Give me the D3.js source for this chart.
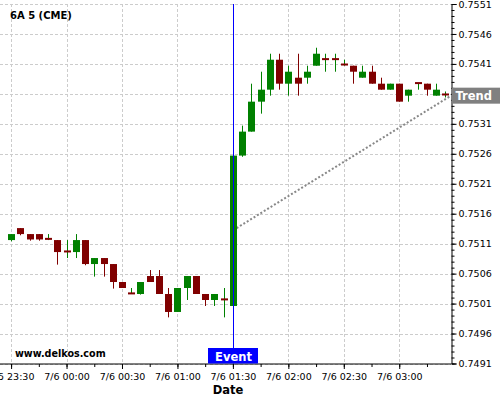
<html>
<head>
<title>6A 5 (CME) - Event</title>
<script src="https://cdn.jsdelivr.net/npm/d3@7"></script>
<style>
    body { margin: 0; background: #ffffff; }
    svg text { font-family: "DejaVu Sans", sans-serif; }
    .grid line { stroke: #cccccc; stroke-dasharray: 3,2; }
    .axis path, .axis line { stroke: #000000; }
    .axis text { font-size: 9.5px; fill: #000; }
</style>
</head>
<body>
<div id="chart"></div>
<script type="text/javascript">

// 5 minute candles
var times = ["7/5 23:30", "7/5 23:35", "7/5 23:40", "7/5 23:45", "7/5 23:50", "7/5 23:55",
             "7/6 00:00", "7/6 00:05", "7/6 00:10", "7/6 00:15", "7/6 00:20", "7/6 00:25",
             "7/6 00:30", "7/6 00:35", "7/6 00:40", "7/6 00:45", "7/6 00:50", "7/6 00:55",
             "7/6 01:00", "7/6 01:05", "7/6 01:10", "7/6 01:15", "7/6 01:20", "7/6 01:25",
             "7/6 01:30", "7/6 01:35", "7/6 01:40", "7/6 01:45", "7/6 01:50", "7/6 01:55",
             "7/6 02:00", "7/6 02:05", "7/6 02:10", "7/6 02:15", "7/6 02:20", "7/6 02:25",
             "7/6 02:30", "7/6 02:35", "7/6 02:40", "7/6 02:45", "7/6 02:50", "7/6 02:55",
             "7/6 03:00", "7/6 03:05", "7/6 03:10", "7/6 03:15", "7/6 03:20", "7/6 03:25"];

var opens  = [0.75116, 0.75136, 0.75126, 0.75126, 0.75118, 0.75116, 0.75097, 0.75096, 0.75116, 0.75076, 0.75086, 0.75076,
              0.75046, 0.75027, 0.75026, 0.75056, 0.75056, 0.75026, 0.74996, 0.75036, 0.75056, 0.75026, 0.75016, 0.75017,
              0.75006, 0.75257, 0.75297, 0.75347, 0.75367, 0.75417, 0.75377, 0.75387, 0.75387, 0.75407, 0.75418, 0.75418,
              0.75409, 0.75407, 0.75387, 0.75397, 0.75377, 0.75367, 0.75377, 0.75357, 0.75378, 0.75377, 0.75357, 0.75359];
var highs  = [0.75126, 0.75136, 0.75126, 0.75126, 0.75126, 0.75116, 0.75116, 0.75126, 0.75116, 0.75086, 0.75086, 0.75076,
              0.75046, 0.75036, 0.75046, 0.75066, 0.75066, 0.75036, 0.75036, 0.75056, 0.75056, 0.75026, 0.75026, 0.75036,
              0.75257, 0.75307, 0.75377, 0.75397, 0.75427, 0.75427, 0.75407, 0.75427, 0.75407, 0.75437, 0.75427, 0.75427,
              0.75417, 0.75407, 0.75407, 0.75407, 0.75387, 0.75377, 0.75377, 0.75367, 0.75378, 0.75377, 0.75377, 0.75364];
var lows   = [0.75114, 0.75124, 0.75115, 0.75115, 0.75116, 0.75075, 0.75086, 0.75086, 0.75074, 0.75055, 0.75055, 0.75035,
              0.75036, 0.75026, 0.75025, 0.75046, 0.75026, 0.74987, 0.74996, 0.75016, 0.75026, 0.75006, 0.75006, 0.74987,
              0.75006, 0.75255, 0.75297, 0.75327, 0.75357, 0.75367, 0.75357, 0.75357, 0.75377, 0.75407, 0.75397, 0.75397,
              0.75407, 0.75377, 0.75387, 0.75377, 0.75367, 0.75367, 0.75347, 0.75347, 0.75367, 0.75357, 0.75357, 0.75354];
var closes = [0.75126, 0.75126, 0.75117, 0.75117, 0.75118, 0.75096, 0.75097, 0.75116, 0.75076, 0.75086, 0.75076, 0.75046,
              0.75036, 0.75027, 0.75046, 0.75046, 0.75026, 0.74996, 0.75036, 0.75056, 0.75026, 0.75016, 0.75026, 0.75017,
              0.75257, 0.75297, 0.75347, 0.75367, 0.75417, 0.75377, 0.75397, 0.75377, 0.75397, 0.75427, 0.75418, 0.75418,
              0.75409, 0.75397, 0.75397, 0.75377, 0.75367, 0.75377, 0.75347, 0.75367, 0.75378, 0.75367, 0.75367, 0.75359];

var xTickLabels = ["7/5 23:30", "7/6 00:00", "7/6 00:30", "7/6 01:00", "7/6 01:30", "7/6 02:00", "7/6 02:30", "7/6 03:00"];
var yTickValues = [0.7491, 0.7496, 0.7501, 0.7506, 0.7511, 0.7516, 0.7521, 0.7526, 0.7531, 0.7536, 0.7541, 0.7546, 0.7551];
var yHiddenLabel = 0.7536; // sits under the Trend tag

var eventTime = "7/6 01:30";
var trendTimes = ["7/6 01:32", "7/6 03:28"];
var trendPrices = [0.75136, 0.75357];
var xDomain = ["7/5 23:24", "7/6 03:28"];
var yDomain = [0.7491, 0.7551];

// sizes
var totalW = 500, totalH = 400;
var margin = {top: 4, left: 0};
var width = 451;
var height = 359.5;

var parse = d3.timeParse("%m/%d %H:%M");

var candles = times.map(function(t, i) {
    return {t: parse(t), o: opens[i], h: highs[i], l: lows[i], c: closes[i]};
});

var x = d3.scaleTime().domain(xDomain.map(parse)).range([0, width]);
var y = d3.scaleLinear().domain(yDomain).range([height, 0]);

var svg = d3.select("#chart").append("svg")
    .attr("width", totalW)
    .attr("height", totalH);

var g = svg.append("g")
    .attr("transform", "translate(" + margin.left + "," + margin.top + ")");

// grid
var grid = g.append("g").attr("class", "grid");
grid.selectAll(".hg")
    .data(yTickValues)
    .enter().append("line")
    .attr("x1", 0).attr("x2", width)
    .attr("y1", function(d) { return Math.round(y(d)) + 0.5; })
    .attr("y2", function(d) { return Math.round(y(d)) + 0.5; });
grid.selectAll(".vg")
    .data(xTickLabels)
    .enter().append("line")
    .attr("y1", 0).attr("y2", height)
    .attr("x1", function(d) { return Math.round(x(parse(d))) + 0.5; })
    .attr("x2", function(d) { return Math.round(x(parse(d))) + 0.5; });

// trend line (dotted)
g.append("line")
    .attr("x1", x(parse(trendTimes[0]))).attr("y1", y(trendPrices[0]))
    .attr("x2", x(parse(trendTimes[1]))).attr("y2", y(trendPrices[1]))
    .attr("stroke", "#888888")
    .attr("stroke-width", 2)
    .attr("stroke-dasharray", "2,2");

// candles
var step = x(parse(times[1])) - x(parse(times[0]));
var bw = Math.round(step * 0.76);

var cg = g.selectAll(".candle")
    .data(candles)
    .enter().append("g")
    .attr("class", "candle");

cg.append("line")
    .attr("x1", function(d) { return Math.round(x(d.t)) + 0.5; })
    .attr("x2", function(d) { return Math.round(x(d.t)) + 0.5; })
    .attr("y1", function(d) { return y(d.h); })
    .attr("y2", function(d) { return y(d.l); })
    .attr("stroke", function(d) { return d.c >= d.o ? "#008000" : "#800000"; })
    .attr("stroke-width", 1);

cg.append("rect")
    .attr("x", function(d) { return Math.round(x(d.t)) - Math.floor(bw / 2); })
    .attr("width", bw)
    .attr("y", function(d) {
        var top = y(Math.max(d.o, d.c)), bot = y(Math.min(d.o, d.c));
        return bot - top < 2 ? (top + bot) / 2 - 1 : top;
    })
    .attr("height", function(d) { return Math.max(2, y(Math.min(d.o, d.c)) - y(Math.max(d.o, d.c))); })
    .attr("fill", function(d) { return d.c > d.o ? "#008000" : "#800000"; });

// event line
var ex = Math.round(x(parse(eventTime))) + 0.5;
g.append("line")
    .attr("x1", ex).attr("x2", ex)
    .attr("y1", 0).attr("y2", height)
    .attr("stroke", "#0000ff")
    .attr("stroke-width", 1);

// axes
var yAxis = g.append("g")
    .attr("class", "axis")
    .attr("transform", "translate(" + (width + 0.5) + ",0)")
    .call(d3.axisRight(y).tickValues(yTickValues).tickSize(5).tickPadding(2)
        .tickFormat(function(d) { return d === yHiddenLabel ? "" : d3.format(".4f")(d); }));
g.append("g")
    .attr("class", "axis")
    .attr("transform", "translate(" + (width + 0.5) + ",0)")
    .call(d3.axisRight(y).ticks(60).tickSize(3).tickFormat(""))
    .select(".domain").remove();

var xAxis = g.append("g")
    .attr("class", "axis")
    .attr("transform", "translate(0," + (height + 0.5) + ")")
    .call(d3.axisBottom(x).tickValues(xTickLabels.map(parse)).tickSize(5).tickPadding(4)
        .tickFormat(d3.timeFormat("%-m/%-d %H:%M")));
xAxis.select(".domain").attr("d", "M0,0H" + width);
g.append("g")
    .attr("class", "axis")
    .attr("transform", "translate(0," + (height + 0.5) + ")")
    .call(d3.axisBottom(x).ticks(d3.timeMinute.every(15)).tickSize(3).tickFormat(""))
    .select(".domain").remove();

// event label
g.append("rect")
    .attr("x", ex - 25.5).attr("y", height - 15.5)
    .attr("width", 50).attr("height", 15.5)
    .attr("fill", "#0000ff");
g.append("text")
    .attr("x", ex).attr("y", height - 3)
    .attr("text-anchor", "middle")
    .attr("fill", "#ffffff")
    .style("font-weight", "bold")
    .style("font-size", "11.5px")
    .text("Event");

// trend label
var ty = y(trendPrices[1]);
g.append("rect")
    .attr("x", width + 1).attr("y", ty - 8)
    .attr("width", 49).attr("height", 16)
    .attr("fill", "#808080");
g.append("text")
    .attr("x", width + 4.5).attr("y", ty + 4.5)
    .attr("fill", "#ffffff")
    .style("font-weight", "bold")
    .style("font-size", "11.5px")
    .text("Trend");

// titles
svg.append("text")
    .attr("x", 10).attr("y", 19)
    .style("font-weight", "bold")
    .style("font-size", "10px")
    .text("6A 5 (CME)");

svg.append("text")
    .attr("x", 15).attr("y", 357)
    .style("font-weight", "bold")
    .style("font-size", "9.6px")
    .text("www.delkos.com");

svg.append("text")
    .attr("x", 228).attr("y", 394)
    .attr("text-anchor", "middle")
    .style("font-weight", "bold")
    .style("font-size", "11.5px")
    .text("Date");

</script>
</body>
</html>
